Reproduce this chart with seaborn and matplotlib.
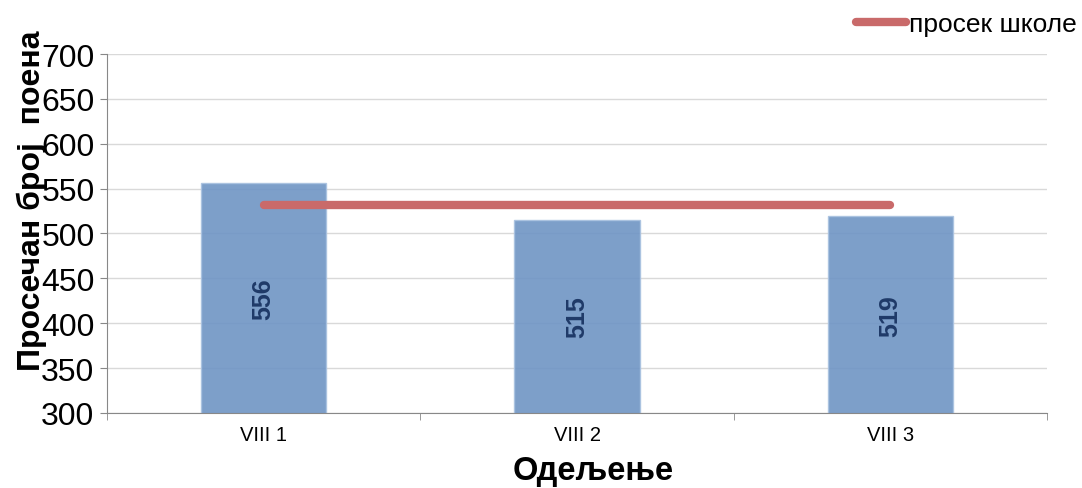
import matplotlib.pyplot as plt
import pandas as pd
import seaborn as sns

classes = ["VIII 1", "VIII 2", "VIII 3"]
avg_points = [556, 515, 519]
school_avg = 532
y_ticks = [300, 350, 400, 450, 500, 550, 600, 650, 700]

df = pd.DataFrame({"odeljenje": classes, "poeni": avg_points})

sns.set_style("white")
plt.rcParams["font.family"] = ["Liberation Sans", "DejaVu Sans"]
plt.rcParams["text.color"] = "black"
plt.rcParams["xtick.color"] = "black"
plt.rcParams["ytick.color"] = "black"
plt.rcParams["axes.labelcolor"] = "black"

fig = plt.figure(figsize=(10.82, 4.89), dpi=100)
ax = fig.add_axes([0.0989, 0.1534, 0.8688, 0.7341])

sns.barplot(
    data=df,
    x="odeljenje",
    y="poeni",
    color="#6f95c4",
    width=0.40,
    edgecolor="#a9c2e0",
    linewidth=1.0,
    saturation=1,
    alpha=0.9,
    ax=ax,
)

# school average line, from first to last class
ax.plot([0, len(classes) - 1], [school_avg, school_avg],
        color="#c96a6a", linewidth=6, solid_capstyle="round",
        label="просек школе", zorder=3)

ax.bar_label(ax.containers[0], label_type="center", rotation=90,
             fontsize=18, fontweight="bold", color="#1f3a68")

ax.set_ylim(300, 700)
ax.set_yticks(y_ticks)
ax.set_xlim(-0.5, len(classes) - 0.5)
ax.yaxis.grid(True, color="#d9d9d9", linewidth=1)
ax.set_axisbelow(True)

ax.tick_params(axis="y", labelsize=23, length=5, tick1On=True,
               colors="black", pad=4)
ax.tick_params(axis="y", color="#888888")
ax.tick_params(axis="x", labelsize=14.5, length=0, pad=9)

# tick marks between categories, Excel style
ax.set_xticks([-0.5, 0.5, 1.5, 2.5], minor=True)
ax.tick_params(axis="x", which="minor", length=5, color="#888888", bottom=True)

for side in ["top", "right"]:
    ax.spines[side].set_visible(False)
ax.spines["left"].set_color("#888888")
ax.spines["bottom"].set_color("#888888")

ax.set_xlabel("Одељење", fontsize=23.5, fontweight="bold")
ax.xaxis.set_label_coords(0.517, -0.118)
ax.set_ylabel("Просечан број  поена", fontsize=23, fontweight="bold")
ax.yaxis.set_label_coords(-0.064, 0.594)

fig.legend(loc="upper right", bbox_to_anchor=(1.017, 1.022), frameon=False,
           fontsize=19, handlelength=1.9, handletextpad=0.1)

fig.savefig("out.png", dpi=100)
